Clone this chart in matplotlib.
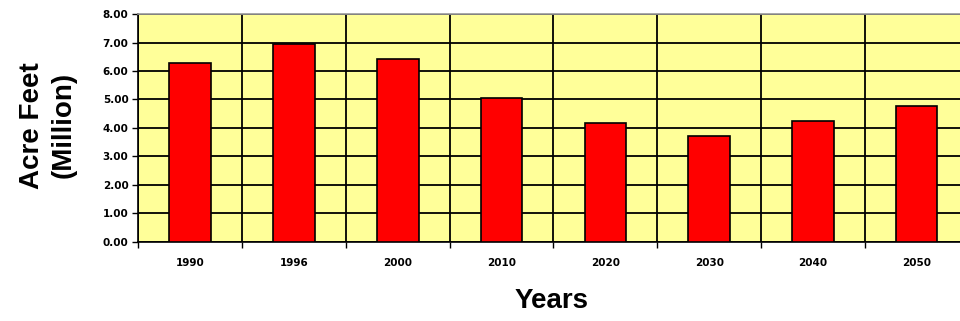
import matplotlib
matplotlib.use("Agg")
import matplotlib.pyplot as plt
import numpy as np

years = ["1990", "1996", "2000", "2010", "2020", "2030", "2040", "2050"]
values = [6.29, 6.96, 6.42, 5.05, 4.19, 3.73, 4.26, 4.76]
yticks = [0, 1, 2, 3, 4, 5, 6, 7, 8]

plt.rcParams['font.family'] = ['Liberation Sans', 'DejaVu Sans']

fig = plt.figure(figsize=(9.6, 3.21), dpi=100)
ax = fig.add_axes([0.144, 0.247, 0.865, 0.709])
ax.set_facecolor('#FFFF99')

x = np.arange(len(years))
ax.bar(x, values, width=0.4, color='#FF0000', edgecolor='black', linewidth=1.2, zorder=3)

tick_font = dict(family='DejaVu Sans', fontsize=7.5, fontweight='bold')

ax.set_xlim(-0.5, len(years) - 0.5)
ax.set_ylim(0, 8)
ax.set_yticks(yticks)
ax.set_yticklabels([f"{v:.2f}" for v in yticks], **tick_font)

bounds = np.arange(len(years) + 1) - 0.5
ax.set_xticks(bounds)
ax.set_xticklabels([''] * len(bounds))
ax.set_xticks(x, minor=True)
ax.set_xticklabels(years, minor=True, **tick_font)
ax.tick_params(axis='x', which='minor', length=0, pad=12)
ax.tick_params(axis='x', which='major', length=4, width=1, direction='out')
ax.tick_params(axis='y', length=4, width=1, pad=3)

ax.grid(True, which='major', color='black', linewidth=1.3, zorder=1)
ax.set_axisbelow(True)

for s in ['top', 'right']:
    ax.spines[s].set_color('#999999')
    ax.spines[s].set_linewidth(1.2)
ax.spines['left'].set_linewidth(1.2)
ax.spines['bottom'].set_linewidth(1.2)

fig.text(0.05, 0.61, "Acre Feet\n(Million)", rotation=90, ha='center', va='center',
         fontsize=20, fontweight='bold', linespacing=1.3)
fig.text(0.575, 0.062, "Years", ha='center', va='center', fontsize=20, fontweight='bold')

fig.savefig("out.png", dpi=100)
